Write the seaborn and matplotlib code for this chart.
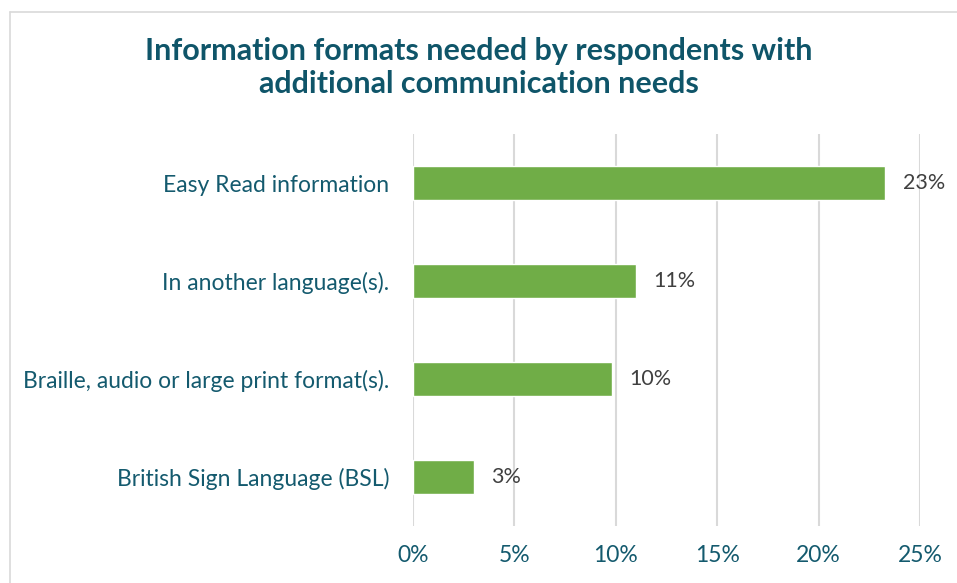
import matplotlib
matplotlib.use("Agg")
import matplotlib.pyplot as plt
import pandas as pd
import seaborn as sns
from matplotlib.ticker import PercentFormatter

# values (proportion of respondents)
formats = [
    "Easy Read information",
    "In another language(s).",
    "Braille, audio or large print format(s).",
    "British Sign Language (BSL)",
]
shares = [0.233, 0.110, 0.098, 0.030]
labels = ["23%", "11%", "10%", "3%"]

df = pd.DataFrame({"format": formats, "share": shares})

sns.set_style("white")
plt.rcParams["font.family"] = ["Lato", "DejaVu Sans"]

teal = "#145a6e"
green = "#70ad47"

fig = plt.figure(figsize=(9.57, 5.83), dpi=100)
ax = fig.add_axes([0.4316, 0.0978, 0.5297, 0.672])

sns.barplot(data=df, x="share", y="format", color=green, width=0.35,
            saturation=1, ax=ax, zorder=3)

for patch, lab in zip(ax.patches, labels):
    ax.text(patch.get_width() + 0.0085, patch.get_y() + patch.get_height() / 2,
            lab, va="center", ha="left", fontsize=15.5, color="#404040")

ax.set_xlim(0, 0.25)
ax.set_xticks([0, 0.05, 0.10, 0.15, 0.20, 0.25])
ax.xaxis.set_major_formatter(PercentFormatter(1.0, decimals=0))
ax.grid(axis="x", color="#d9d9d9", linewidth=1.5, zorder=0)
ax.grid(axis="y", visible=False)
for s in ax.spines.values():
    s.set_visible(False)
ax.tick_params(axis="both", length=0, labelsize=16.5, colors=teal)
ax.tick_params(axis="x", pad=14)
ax.tick_params(axis="y", pad=17)
ax.set_xlabel("")
ax.set_ylabel("")

fig.text(0.5, 0.884, "Information formats needed by respondents with\nadditional communication needs",
         ha="center", va="center", fontsize=22, fontweight="bold", color="#0f5569",
         linespacing=1.2)

# chart frame (top and left edges visible in the crop)
fig.add_artist(plt.Line2D([0.0105, 1.0], [0.979, 0.979], color="#d9d9d9", lw=1.2,
                          transform=fig.transFigure))
fig.add_artist(plt.Line2D([0.0105, 0.0105], [0.0, 0.979], color="#d9d9d9", lw=1.2,
                          transform=fig.transFigure))

fig.savefig("out.png", dpi=100)
